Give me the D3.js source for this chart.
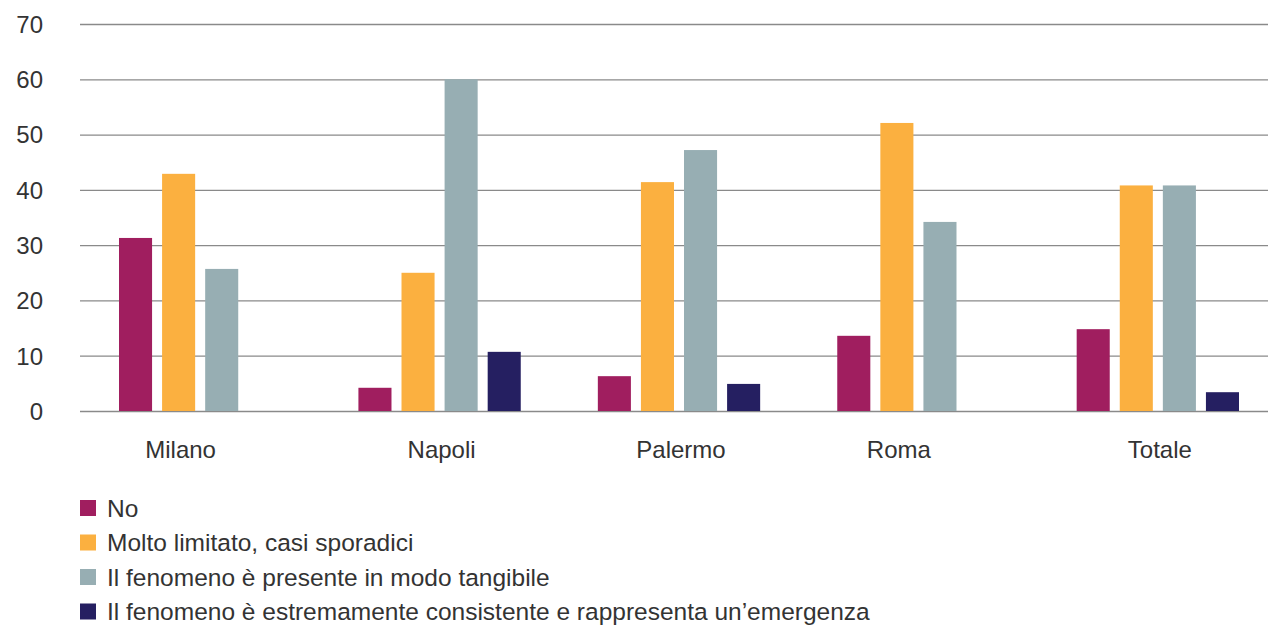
<!DOCTYPE html>
<html>
<head>
<meta charset="utf-8">
<script src="https://cdn.jsdelivr.net/npm/d3@7"></script>
<style>
  html, body { margin: 0; padding: 0; background: #fff; }
  svg { display: block; font-family: "Liberation Sans", Arial, sans-serif; }
</style>
</head>
<body>
<svg id="chart" width="1268" height="626"></svg>
<script>
const categories = ["Milano", "Napoli", "Palermo", "Roma", "Totale"];
const seriesNames = [
  "No",
  "Molto limitato, casi sporadici",
  "Il fenomeno è presente in modo tangibile",
  "Il fenomeno è estremamente consistente e rappresenta un’emergenza"
];
const seriesColors = ["#A01E5F", "#FBB040", "#97AEB3", "#251F61"];
// values per series, in category order (null = no bar)
const sNo        = [31.3, 4.2, 6.3, 13.6, 14.8];
const sLimitato  = [42.9, 25.0, 41.4, 52.1, 40.8];
const sPresente  = [25.7, 60.0, 47.2, 34.2, 40.8];
const sEmergenza = [null, 10.7, 4.9, null, 3.4];
const yTicks = [0, 10, 20, 30, 40, 50, 60, 70];

const seriesValues = [sNo, sLimitato, sPresente, sEmergenza];

const svg = d3.select("#chart");
const plotLeft = 80, plotRight = 1268, plotTop = 24, plotBottom = 411;

const y = d3.scaleLinear().domain([0, 70]).range([plotBottom, plotTop]);

const x0 = d3.scaleBand().domain(categories)
  .range([119, 1239]).paddingInner(0.322).paddingOuter(0);
const x1 = d3.scaleBand().domain(d3.range(seriesNames.length))
  .range([0, x0.bandwidth()]).paddingInner(0.2326).paddingOuter(0);

// gridlines
const grid = svg.append("g")
  .attr("transform", `translate(${plotLeft},0)`)
  .call(d3.axisRight(y).tickValues(yTicks).tickSize(plotRight - plotLeft).tickFormat(""));
grid.select(".domain").remove();
grid.selectAll("line").attr("stroke", "#8a8a8a").attr("stroke-width", 1.3);

// y labels
const yl = svg.append("g")
  .attr("transform", `translate(43,0)`)
  .call(d3.axisLeft(y).tickValues(yTicks).tickSize(0).tickPadding(0).tickFormat(d3.format("d")));
yl.select(".domain").remove();
yl.selectAll("text").attr("font-size", 24).attr("fill", "#333")
  .attr("font-family", "Liberation Sans, Arial, sans-serif")
  .attr("dy", "0.35em");

// bars
const rows = [];
categories.forEach((c, ci) => {
  seriesValues.forEach((arr, si) => {
    if (arr[ci] != null) rows.push({ c, si, v: arr[ci] });
  });
});
svg.append("g").selectAll("rect").data(rows).join("rect")
  .attr("x", d => x0(d.c) + x1(d.si))
  .attr("y", d => y(d.v))
  .attr("width", x1.bandwidth())
  .attr("height", d => y(0) - y(d.v))
  .attr("fill", d => seriesColors[d.si]);

// category labels centered on present bars
categories.forEach((c, ci) => {
  const present = seriesValues.map((a, si) => a[ci] != null ? si : null).filter(v => v != null);
  const xa = x0(c) + x1(present[0]);
  const xb = x0(c) + x1(present[present.length - 1]) + x1.bandwidth();
  svg.append("text")
    .attr("x", (xa + xb) / 2 + 2)
    .attr("y", 458)
    .attr("text-anchor", "middle")
    .attr("font-size", 24)
    .attr("fill", "#333")
    .text(c);
});

// legend
const lg = svg.append("g");
seriesNames.forEach((n, i) => {
  const cy = 508 + i * 34.5;
  lg.append("rect").attr("x", 80).attr("y", cy - 8).attr("width", 16).attr("height", 16)
    .attr("fill", seriesColors[i]);
  lg.append("text").attr("x", 107).attr("y", cy + 8.5)
    .attr("font-size", 24.5).attr("fill", "#333").text(n);
});
</script>
</body>
</html>
